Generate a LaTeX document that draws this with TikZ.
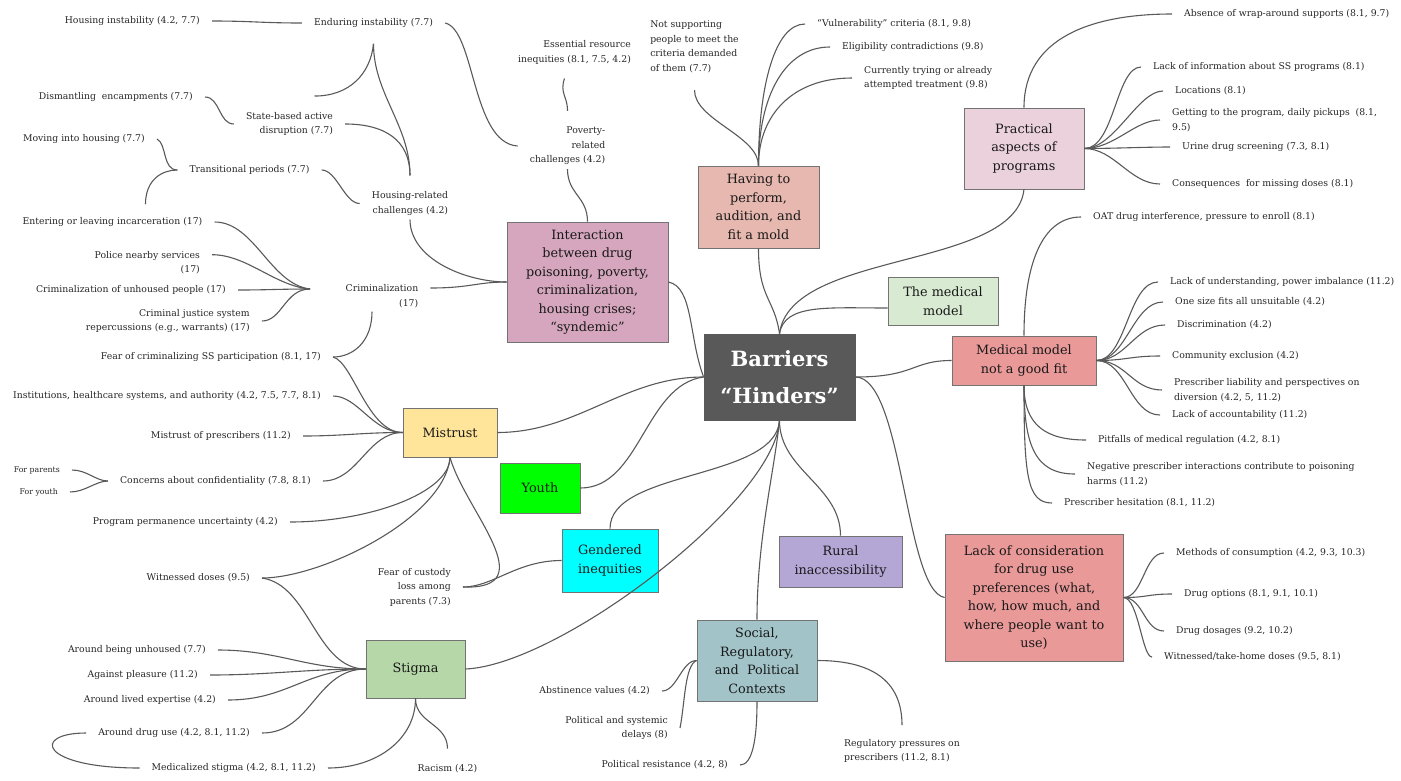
\documentclass[tikz,border=0pt]{standalone}
\usepackage{fontspec}
\setmainfont{DejaVu Serif}
\usepackage{tikz}
\definecolor{interfill}{HTML}{D5A6BD}
\definecolor{perffill}{HTML}{E6B8AF}
\definecolor{pracfill}{HTML}{EAD1DC}
\definecolor{medmodfill}{HTML}{D9EAD3}
\definecolor{redfill}{HTML}{EA9999}
\definecolor{ruralfill}{HTML}{B4A7D6}
\definecolor{socfill}{HTML}{A2C4C9}
\definecolor{gendfill}{HTML}{00FFFF}
\definecolor{youthfill}{HTML}{00FF00}
\definecolor{mistfill}{HTML}{FFE599}
\definecolor{stigfill}{HTML}{B6D7A8}
\def\leaffont{\fontsize{9.3}{14.5}\selectfont}
\def\tinyleaffont{\fontsize{7.8}{9}\selectfont}
\def\boxfont{\fontsize{12.8}{18.5}\selectfont}
\def\leaf{\node[font=\leaffont, text=black!85, inner xsep=12pt, inner ysep=4pt]}
\def\mapbox{\node[draw=black!55, line width=0.8pt, font=\boxfont, text=black!90, align=center, inner sep=2pt]}
\def\drawlink{\draw[color=black!65, line width=1.1pt]}

\begin{document}
\begin{tikzpicture}[x=1pt,y=-1pt]
\useasboundingbox (0,0) rectangle (1401,780);
\mapbox (ctr) [fill=black!65, draw=black!65, text=white, font=\fontsize{21}{37}\selectfont\bfseries, minimum width=151pt, minimum height=86pt] at (779.5,377) {Barriers\\“Hinders”};
\mapbox (inter) [fill=interfill, minimum width=161pt, minimum height=120pt] at (587.5,282) {Interaction\\between drug\\poisoning, poverty,\\criminalization,\\housing crises;\\“syndemic”};
\mapbox (perf) [fill=perffill, minimum width=121pt, minimum height=82pt] at (758.5,207) {Having to\\perform,\\audition, and\\fit a mold};
\mapbox (prac) [fill=pracfill, minimum width=120pt, minimum height=81pt] at (1024,148.5) {Practical\\aspects of\\programs};
\mapbox (medmod) [fill=medmodfill, minimum width=110pt, minimum height=48pt] at (943,301) {The medical\\model};
\mapbox (notfit) [fill=redfill, minimum width=144pt, minimum height=49pt] at (1024,360.5) {Medical model\\not a good fit};
\mapbox (lackcons) [fill=redfill, minimum width=178pt, minimum height=127pt] at (1034,597.5) {Lack of consideration\\for drug use\\preferences (what,\\how, how much, and\\where people want to\\use)};
\mapbox (rural) [fill=ruralfill, minimum width=123pt, minimum height=51pt] at (840.5,561.5) {Rural\\inaccessibility};
\mapbox (social) [fill=socfill, minimum width=120pt, minimum height=81pt] at (757,660.5) {Social,\\Regulatory,\\and~ Political\\Contexts};
\mapbox (gend) [fill=gendfill, minimum width=96pt, minimum height=63pt] at (610,560.5) {Gendered\\inequities};
\mapbox (youth) [fill=youthfill, minimum width=80pt, minimum height=50pt] at (540,488) {Youth};
\mapbox (mist) [fill=mistfill, minimum width=94pt, minimum height=49pt] at (450,432.5) {Mistrust};
\mapbox (stig) [fill=stigfill, minimum width=99pt, minimum height=58pt] at (415.5,669) {Stigma};

\leaf (housinst) [anchor=east] at (212,21) {Housing instability (4.2, 7.7)};
\leaf (endinst) at (373.5,23) {Enduring instability (7.7)};
\leaf (dismant) [anchor=east] at (205,97) {Dismantling~ encampments (7.7)};
\leaf (statedis) [align=right] at (289.5,124) {State-based active\\disruption (7.7)};
\leaf (moving) [anchor=east] at (157,139) {Moving into housing (7.7)};
\leaf (trans) at (249.5,170) {Transitional periods (7.7)};
\leaf (housrel) [align=right] at (410,203.5) {Housing-related\\challenges (4.2)};
\leaf (enter) at (112.5,222) {Entering or leaving incarceration (17)};
\leaf (police) [align=right, anchor=north east] at (212,247) {Police nearby services\\(17)};
\leaf (crimunh) [anchor=east] at (238,290) {Criminalization of unhoused people (17)};
\leaf (crimjus) [align=right, anchor=east] at (262,321) {Criminal justice system\\repercussions (e.g., warrants) (17)};
\coordinate (crimhub) at (310,289);
\leaf (crim) [align=right] at (382,296) {Criminalization\\(17)};
\leaf (fear) [anchor=east] at (333,357) {Fear of criminalizing SS participation (8.1, 17)};
\leaf (instit) [anchor=east] at (333,396) {Institutions, healthcare systems, and authority (4.2, 7.5, 7.7, 8.1)};
\leaf (mistpres) [anchor=east] at (303,436) {Mistrust of prescribers (11.2)};
\leaf (concern) [anchor=east] at (323,481) {Concerns about confidentiality (7.8, 8.1)};
\leaf (parents) [anchor=east, font=\tinyleaffont] at (72,470) {For parents};
\leaf (youthl) [anchor=east, font=\tinyleaffont] at (70,492) {For youth};
\leaf (progperm) [anchor=east] at (290,522) {Program permanence uncertainty (4.2)};
\leaf (witn) [anchor=east] at (262,578) {Witnessed doses (9.5)};
\leaf (custody) [align=right, anchor=east] at (463,587) {Fear of custody\\loss among\\parents (7.3)};
\leaf (unhoused) [anchor=east] at (218,650) {Around being unhoused (7.7)};
\leaf (pleasure) [anchor=east] at (210,675) {Against pleasure (11.2)};
\leaf (lived) [anchor=east] at (228,700) {Around lived expertise (4.2)};
\leaf (druguse) [anchor=east] at (262,733) {Around drug use (4.2, 8.1, 11.2)};
\leaf (medstig) [anchor=east] at (328,768) {Medicalized stigma (4.2, 8.1, 11.2)};
\leaf (racism) at (447.5,769) {Racism (4.2)};

\leaf (essent) [align=right] at (574.5,52.5) {Essential resource\\inequities (8.1, 7.5, 4.2)};
\leaf (poverty) [align=right] at (567.5,146) {Poverty-\\related\\challenges (4.2)};
\leaf (notsupp) [align=left] at (694.5,47) {Not supporting\\people to meet the\\criteria demanded\\of them (7.7)};
\leaf (vuln) [anchor=west] at (805,24) {“Vulnerability” criteria (8.1, 9.8)};
\leaf (elig) [anchor=west] at (830,47) {Eligibility contradictions (9.8)};
\leaf (curr) [align=left, anchor=west] at (852,78) {Currently trying or already\\attempted treatment (9.8)};

\leaf (absence) [anchor=west] at (1172,14) {Absence of wrap-around supports (8.1, 9.7)};
\leaf (lackinfo) [anchor=west] at (1141,67) {Lack of information about SS programs (8.1)};
\leaf (locat) [anchor=west] at (1163,91) {Locations (8.1)};
\leaf (getting) [align=left, anchor=west] at (1160,120) {Getting to the program, daily pickups~ (8.1,\\9.5)};
\leaf (urine) [anchor=west] at (1170,147) {Urine drug screening (7.3, 8.1)};
\leaf (conseq) [anchor=west] at (1160,184) {Consequences~ for missing doses (8.1)};
\leaf (oat) [anchor=west] at (1081,217) {OAT drug interference, pressure to enroll (8.1)};

\leaf (underst) [anchor=west] at (1158,282) {Lack of understanding, power imbalance (11.2)};
\leaf (onesize) [anchor=west] at (1163,302) {One size fits all unsuitable (4.2)};
\leaf (discrim) [anchor=west] at (1165,325) {Discrimination (4.2)};
\leaf (commun) [anchor=west] at (1160,356) {Community exclusion (4.2)};
\leaf (liab) [align=left, anchor=west] at (1162,390) {Prescriber liability and perspectives on\\diversion (4.2, 5, 11.2)};
\leaf (account) [anchor=west] at (1160,415) {Lack of accountability (11.2)};
\leaf (pitfall) [anchor=west] at (1086,440) {Pitfalls of medical regulation (4.2, 8.1)};
\leaf (negat) [align=left, anchor=west] at (1075,474) {Negative prescriber interactions contribute to poisoning\\harms (11.2)};
\leaf (hesit) [anchor=west] at (1052,503) {Prescriber hesitation (8.1, 11.2)};

\leaf (methods) [anchor=west] at (1164,553) {Methods of consumption (4.2, 9.3, 10.3)};
\leaf (options) [anchor=west] at (1172,594) {Drug options (8.1, 9.1, 10.1)};
\leaf (dosages) [anchor=west] at (1164,631) {Drug dosages (9.2, 10.2)};
\leaf (takehome) [anchor=west] at (1152,657) {Witnessed/take-home doses (9.5, 8.1)};

\leaf (abstin) [anchor=east] at (662,691) {Abstinence values (4.2)};
\leaf (polsys) [align=right, anchor=east] at (680,728) {Political and systemic\\delays (8)};
\leaf (polres) [anchor=east] at (740,765) {Political resistance (4.2, 8)};
\leaf (regul) [align=left] at (902,751) {Regulatory pressures on\\prescribers (11.2, 8.1)};

\drawlink (ctr.west) .. controls +(-15,-40) and +(25,5) .. (inter.east);
\drawlink (perf.south) .. controls +(0,50) and +(-5,-35) .. (ctr.north);
\drawlink (ctr.north) .. controls +(5,-30) and +(-60,0) .. ([yshift=-7pt]medmod.west);
\drawlink (ctr.north) .. controls +(11,-84) and +(-9,81) .. (prac.south);
\drawlink (ctr.east) .. controls +(60,0) and +(-40,0) .. (notfit.west);
\drawlink (ctr.east) .. controls +(48,0) and +(-40,-7) .. (lackcons.west);
\drawlink (ctr.south) .. controls +(0,50) and +(0,-50) .. (rural.north);
\drawlink (ctr.south) .. controls +(-5,50) and +(0,-80) .. (social.north);
\drawlink (ctr.south) .. controls +(-4,80) and +(95,-4) .. (stig.east);
\drawlink (ctr.south) .. controls +(-4,60) and +(0,-59) .. (gend.north);
\drawlink (ctr.west) .. controls +(-59,8) and +(60,0) .. (youth.east);
\drawlink (mist.east) .. controls +(80,0) and +(-80,0) .. (ctr.west);

\drawlink (poverty.south) .. controls +(0,25) and +(0,-25) .. (inter.north);
\drawlink ([yshift=8pt]crim.east) .. controls +(40,0) and +(-30,0) .. (inter.west);
\drawlink (housrel.south) .. controls +(0,40) and +(-40,0) .. (inter.west);
\drawlink (endinst.east) .. controls +(30,7) and +(-46,-3) .. (poverty.west);
\drawlink ([xshift=-10pt,yshift=-10pt]essent.south) .. controls +(-5,15) and +(0,-15) .. ([yshift=12pt]poverty.north);

\drawlink (housinst.east) .. controls +(40,0) and +(-40,0) .. (endinst.west);
\drawlink ([yshift=-12pt]endinst.south) .. controls +(0,50) and +(0,-50) .. ([yshift=12pt]housrel.north);
\drawlink ([yshift=-12pt]endinst.south) .. controls +(-3,30) and +(35,0) .. ([xshift=25pt,yshift=12pt]statedis.north);
\drawlink (statedis.east) .. controls +(40,0) and +(0,-35) .. ([yshift=12pt]housrel.north);
\drawlink (dismant.east) .. controls +(15,0) and +(-15,0) .. (statedis.west);
\drawlink (trans.east) .. controls +(15,0) and +(-15,0) .. (housrel.west);
\drawlink (moving.east) .. controls +(10,5) and +(-15,0) .. (trans.west);
\drawlink ([xshift=33pt,yshift=9pt]enter.north) .. controls +(0,-25) and +(-15,0) .. (trans.west);

\drawlink (enter.east) .. controls +(40,0) and +(-40,-5) .. (crimhub);
\drawlink ([yshift=8pt]police.east) .. controls +(35,0) and +(-35,-3) .. (crimhub);
\drawlink (crimunh.east) .. controls +(30,0) and +(-30,0) .. (crimhub);
\drawlink (crimjus.east) .. controls +(20,0) and +(-25,0) .. (crimhub);
\drawlink ([xshift=-10pt]crim.south) .. controls +(0,30) and +(20,0) .. (fear.east);
\drawlink (fear.east) .. controls +(20,5) and +(-35,0) .. (mist.west);
\drawlink (instit.east) .. controls +(25,0) and +(-30,0) .. (mist.west);
\drawlink (mistpres.east) .. controls +(40,0) and +(-40,0) .. (mist.west);
\drawlink (concern.east) .. controls +(35,0) and +(-35,0) .. (mist.west);
\drawlink (parents.east) .. controls +(15,0) and +(-12,0) .. (concern.west);
\drawlink (youthl.east) .. controls +(15,0) and +(-12,0) .. (concern.west);

\drawlink (mist.south) .. controls +(0,35) and +(80,0) .. (progperm.east);
\drawlink (mist.south) .. controls +(-5,60) and +(60,0) .. (witn.east);
\drawlink (mist.south) .. controls +(15,53) and +(82,3) .. (custody.east);
\drawlink (gend.west) .. controls +(-45,0) and +(30,0) .. (custody.east);

\drawlink (witn.east) .. controls +(48,7) and +(-50,0) .. (stig.west);
\drawlink (unhoused.east) .. controls +(60,0) and +(-60,0) .. (stig.west);
\drawlink (pleasure.east) .. controls +(60,0) and +(-60,0) .. (stig.west);
\drawlink (lived.east) .. controls +(60,0) and +(-60,0) .. (stig.west);
\drawlink (druguse.east) .. controls +(50,0) and +(-50,0) .. (stig.west);
\drawlink (stig.south) .. controls +(0,40) and +(50,0) .. (medstig.east);
\drawlink (stig.south) .. controls +(0,25) and +(0,-25) .. ([yshift=12pt]racism.north);
\drawlink (druguse.west) .. controls +(-55,0) and +(-100,0) .. (medstig.west);

\drawlink (perf.north) .. controls +(0,-30) and +(0,30) .. ([yshift=-13pt]notsupp.south);
\drawlink (perf.north) .. controls +(0,-80) and +(-30,0) .. (vuln.west);
\drawlink (perf.north) .. controls +(0,-70) and +(-45,0) .. (elig.west);
\drawlink (perf.north) .. controls +(0,-50) and +(-60,0) .. (curr.west);

\drawlink (prac.north) .. controls +(0,-70) and +(-80,0) .. (absence.west);
\drawlink (prac.east) .. controls +(30,0) and +(-25,0) .. (lackinfo.west);
\drawlink (prac.east) .. controls +(30,0) and +(-25,0) .. (locat.west);
\drawlink (prac.east) .. controls +(30,0) and +(-25,0) .. (getting.west);
\drawlink (prac.east) .. controls +(30,0) and +(-25,0) .. (urine.west);
\drawlink (prac.east) .. controls +(30,0) and +(-30,0) .. (conseq.west);

\drawlink (notfit.north) .. controls +(0,-80) and +(-35,0) .. (oat.west);
\drawlink (notfit.east) .. controls +(30,0) and +(-30,0) .. (underst.west);
\drawlink (notfit.east) .. controls +(30,0) and +(-30,0) .. (onesize.west);
\drawlink (notfit.east) .. controls +(30,0) and +(-30,0) .. (discrim.west);
\drawlink (notfit.east) .. controls +(30,0) and +(-30,0) .. (commun.west);
\drawlink (notfit.east) .. controls +(30,0) and +(-30,0) .. (liab.west);
\drawlink (notfit.east) .. controls +(30,0) and +(-30,0) .. (account.west);
\drawlink (notfit.south) .. controls +(0,40) and +(-40,0) .. (pitfall.west);
\drawlink (notfit.south) .. controls +(0,60) and +(-40,0) .. (negat.west);
\drawlink (notfit.south) .. controls +(0,90) and +(-25,0) .. (hesit.west);

\drawlink (lackcons.east) .. controls +(20,0) and +(-20,0) .. (methods.west);
\drawlink (lackcons.east) .. controls +(25,0) and +(-25,0) .. (options.west);
\drawlink (lackcons.east) .. controls +(20,0) and +(-20,0) .. (dosages.west);
\drawlink (lackcons.east) .. controls +(15,0) and +(-10,0) .. (takehome.west);

\drawlink (social.west) .. controls +(-15,0) and +(15,0) .. (abstin.east);
\drawlink (social.west) .. controls +(-12,5) and +(5,-25) .. (polsys.east);
\drawlink (social.south) .. controls +(0,40) and +(12,0) .. (polres.east);
\drawlink (social.east) .. controls +(60,0) and +(0,-40) .. ([yshift=10pt]regul.north);
\end{tikzpicture}
\end{document}
